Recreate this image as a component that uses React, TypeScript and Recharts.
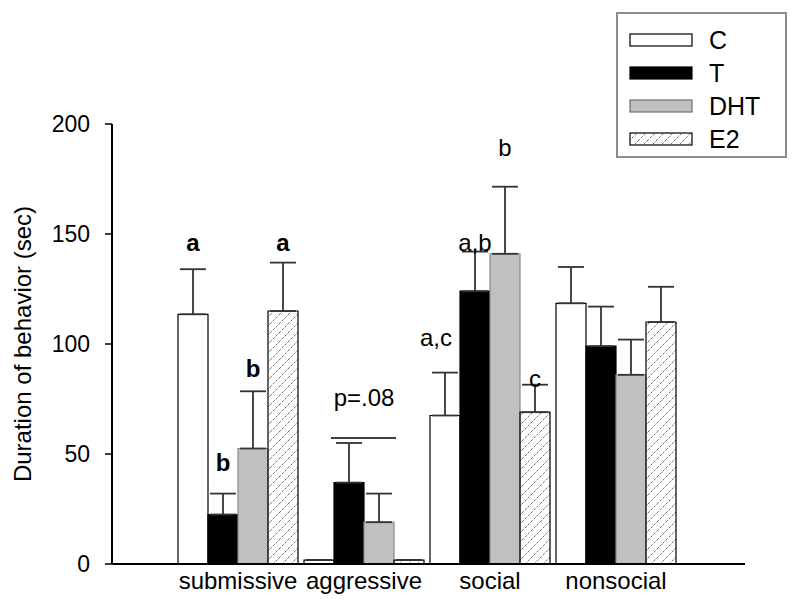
import React from 'react';
import { BarChart, Bar, XAxis, YAxis, ErrorBar, LabelList, Legend } from 'recharts';

const categories = ['submissive', 'aggressive', 'social', 'nonsocial'];

// means and (upper) SEM per hormone group
const cMean = [113.5, 1.8, 67.5, 118.5];
const cSem = [20.5, 0, 19.5, 16.5];
const tMean = [22.5, 37, 124, 99];
const tSem = [9.5, 18, 18, 18];
const dhtMean = [52.5, 19, 141, 86];
const dhtSem = [26, 13, 30.5, 16];
const e2Mean = [115, 1.8, 69, 110];
const e2Sem = [22, 0, 12.5, 16];

// significance letters and the height (sec) they sit at
const cLetters = ['a', '', 'a,c', ''];
const tLetters = ['b', '', 'a,b', ''];
const dhtLetters = ['b', '', 'b', ''];
const e2Letters = ['a', '', 'c', ''];
const cLetterAt = [146, 0, 103, 0];
const tLetterAt = [46, 0, 146, 0];
const dhtLetterAt = [89, 0, 189.5, 0];
const e2LetterAt = [146, 0, 84.5, 0];

const pText = 'p=.08';
const pTextAt = 75.5;
const pLineAt = 57.3;

const yTicks = [0, 50, 100, 150, 200];

const data = categories.map((name, i) => ({
  name,
  c: cMean[i],
  cErr: [0, cSem[i]],
  t: tMean[i],
  tErr: [0, tSem[i]],
  dht: dhtMean[i],
  dhtErr: [0, dhtSem[i]],
  e2: e2Mean[i],
  e2Err: [0, e2Sem[i]],
}));

const means: Record<string, number[]> = { c: cMean, t: tMean, dht: dhtMean, e2: e2Mean };
const letters: Record<string, string[]> = { c: cLetters, t: tLetters, dht: dhtLetters, e2: e2Letters };
const letterAt: Record<string, number[]> = { c: cLetterAt, t: tLetterAt, dht: dhtLetterAt, e2: e2LetterAt };

const series = [
  { key: 'c', name: 'C', fill: '#ffffff', stroke: '#000000' },
  { key: 't', name: 'T', fill: '#000000', stroke: '#000000' },
  { key: 'dht', name: 'DHT', fill: '#c0c0c0', stroke: '#8a8a8a' },
  { key: 'e2', name: 'E2', fill: 'url(#hatch)', stroke: '#000000' },
];

const font = '"Liberation Sans", Arial, sans-serif';

const makeLetterLabel = (key: string) => (props: any) => {
  const vb = props.viewBox ?? props;
  const { x, y, width, height } = vb;
  const index = props.index;
  const text = letters[key][index];
  const v = means[key][index];
  const base = y + height;
  const ppu = height / v;
  const nodes: React.ReactNode[] = [];
  if (text) {
    // two-letter labels sit a little to the left of the bar centre
    const dx = text.length > 1 && key === 'c' ? -9 : 0;
    nodes.push(
      <text
        key="l"
        x={x + width / 2 + dx}
        y={base - letterAt[key][index] * ppu}
        textAnchor="middle"
        dominantBaseline="central"
        fontFamily={font}
        fontSize={24}
        fontWeight={index === 0 ? 'bold' : 'normal'}
        fill="#000"
      >
        {text}
      </text>
    );
  }
  // trend annotation across T and DHT in the aggressive group
  if (key === 't' && index === 1) {
    nodes.push(
      <line
        key="pl"
        x1={x - 3}
        x2={x + width * 2 + 2}
        y1={base - pLineAt * ppu}
        y2={base - pLineAt * ppu}
        stroke="#000"
        strokeWidth={1.5}
      />,
      <text
        key="pt"
        x={x + width}
        y={base - pTextAt * ppu}
        textAnchor="middle"
        dominantBaseline="central"
        fontFamily={font}
        fontSize={24}
        fill="#000"
      >
        {pText}
      </text>
    );
  }
  return <g>{nodes}</g>;
};

const renderLegend = () => (
  <div
    style={{
      width: 171,
      height: 146,
      boxSizing: 'border-box',
      border: '2px solid #8c8c8c',
      paddingTop: 10,
      paddingLeft: 11,
      background: '#fff',
      fontFamily: font,
    }}
  >
    {series.map((s) => (
      <div key={s.key} style={{ display: 'flex', alignItems: 'center', height: 33 }}>
        <svg width={66} height={15}>
          <defs>
            <pattern id={`hatchLegend${s.key}`} patternUnits="userSpaceOnUse" width={9} height={9}>
              <path d="M0,9 L9,0 M-1,1 L1,-1 M8,10 L10,8" stroke="#444" strokeWidth={0.8} strokeDasharray="2.5 1.5" />
            </pattern>
          </defs>
          <rect
            x={1}
            y={1}
            width={62}
            height={12}
            fill={s.key === 'e2' ? `url(#hatchLegend${s.key})` : s.fill}
            stroke={s.key === 'dht' ? '#6f6f6f' : '#000'}
            strokeWidth={1.2}
          />
        </svg>
        <span style={{ marginLeft: 14, fontSize: 25, color: '#000', lineHeight: '25px' }}>{s.name}</span>
      </div>
    ))}
  </div>
);

export default function App() {
  return (
    <div style={{ position: 'absolute', left: 0, top: 0, width: 800, height: 613, background: '#fff' }}>
      <BarChart
        width={800}
        height={613}
        data={data}
        margin={{ top: 124, right: 55, bottom: 19, left: 0 }}
        barCategoryGap={3}
        barGap={0}
      >
        <defs>
          <pattern id="hatch" patternUnits="userSpaceOnUse" width={9} height={9}>
            <path d="M0,9 L9,0 M-1,1 L1,-1 M8,10 L10,8" stroke="#444" strokeWidth={0.8} strokeDasharray="2.5 1.5" />
          </pattern>
        </defs>
        <XAxis
          dataKey="name"
          interval={0}
          tickLine={false}
          axisLine={{ stroke: '#000', strokeWidth: 2 }}
          padding={{ left: 63, right: 66 }}
          tick={{ fill: '#000', fontSize: 24, fontFamily: font }}
        />
        <YAxis
          width={112}
          domain={[0, 200]}
          ticks={yTicks}
          tickSize={7}
          tickMargin={15}
          axisLine={{ stroke: '#000', strokeWidth: 2 }}
          tickLine={{ stroke: '#000', strokeWidth: 1.5 }}
          tick={{ fill: '#000', fontSize: 23, fontFamily: font }}
          label={{
            value: 'Duration of behavior (sec)',
            angle: -90,
            position: 'insideLeft',
            offset: 22,
            style: { textAnchor: 'middle', fontSize: 24, fontFamily: font, fill: '#000' },
          }}
        />
        <Legend
          layout="vertical"
          align="center"
          verticalAlign="middle"
          content={renderLegend}
          wrapperStyle={{ position: 'absolute', left: 616, top: 12, width: 171, height: 146 }}
        />
        {series.map((s) => (
          <Bar
            key={s.key}
            dataKey={s.key}
            name={s.name}
            fill={s.fill}
            stroke={s.stroke}
            strokeWidth={1.2}
            isAnimationActive={false}
          >
            <ErrorBar
              dataKey={`${s.key}Err`}
              width={13}
              stroke="#333"
              strokeWidth={1.8}
              direction="y"
              isAnimationActive={false}
            />
            <LabelList dataKey={s.key} content={makeLetterLabel(s.key)} />
          </Bar>
        ))}
      </BarChart>
    </div>
  );
}
